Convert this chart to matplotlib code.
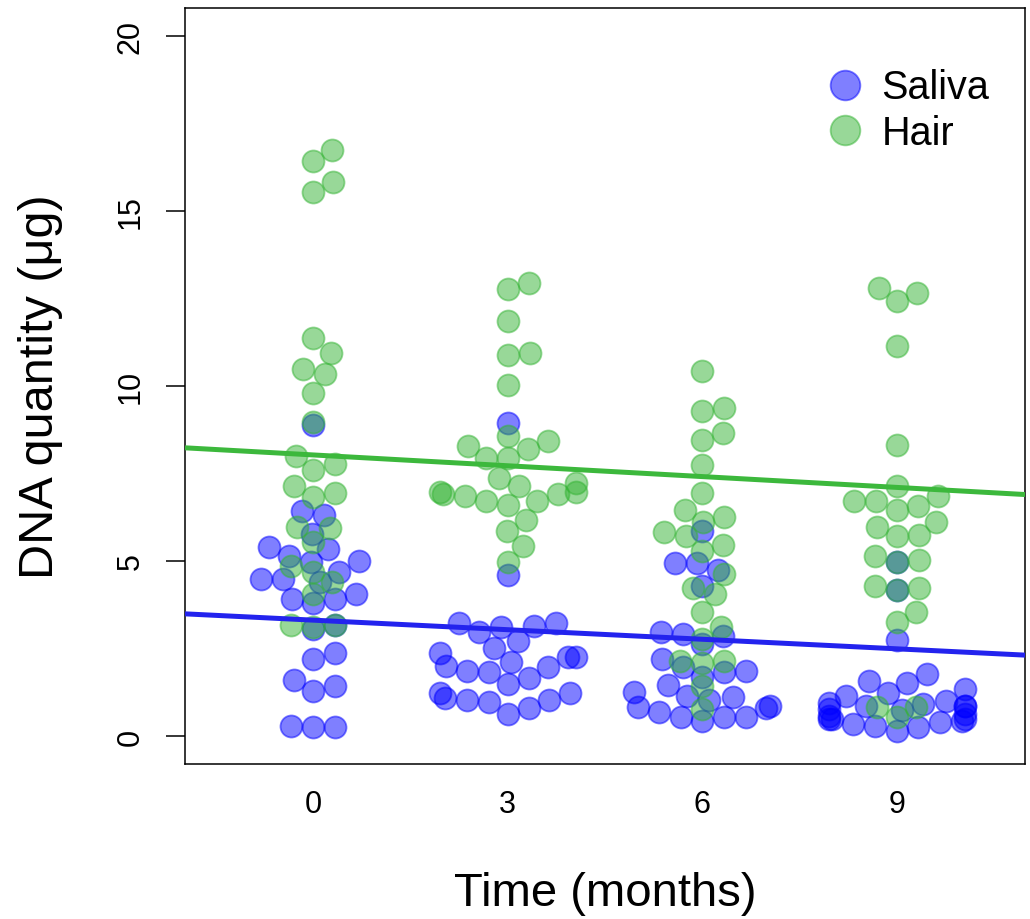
import numpy as np
import matplotlib
matplotlib.use("Agg")
import matplotlib.pyplot as plt
from matplotlib.lines import Line2D

plt.rcParams['font.family'] = ['Liberation Sans', 'DejaVu Sans']

# time points (months)
times = [0, 3, 6, 9]

# DNA quantity (ug) per time point
saliva = [
    [8.89, 6.43, 6.31, 5.77, 5.40, 5.34, 5.14, 5.00, 4.97, 4.69, 4.49, 4.40, 4.49, 4.06,
     3.91, 3.80, 3.91, 3.05, 3.17, 2.37, 2.20, 1.60, 1.43, 1.29, 0.29, 0.26, 0.26],
    [8.94, 4.60, 3.23, 3.23, 3.14, 3.11, 2.97, 2.71, 2.51, 2.37, 2.26, 2.26, 2.11, 2.00,
     1.97, 1.86, 1.83, 1.66, 1.49, 1.23, 1.23, 1.09, 1.03, 1.03, 0.97, 0.80, 0.63],
    [5.86, 4.94, 4.94, 4.74, 4.29, 2.97, 2.91, 2.86, 2.63, 2.20, 1.97, 1.86, 1.83, 1.69,
     1.46, 1.26, 1.14, 1.11, 1.03, 0.86, 0.83, 0.80, 0.69, 0.54, 0.54, 0.54, 0.43],
    [4.97, 4.17, 2.74, 1.77, 1.57, 1.51, 1.34, 1.23, 1.14, 1.00, 0.95, 0.91, 0.86, 0.86,
     0.85, 0.77, 0.75, 0.63, 0.57, 0.49, 0.49, 0.49, 0.43, 0.40, 0.34, 0.29, 0.26, 0.14],
]
hair = [
    [16.74, 16.43, 15.83, 15.54, 11.37, 10.94, 10.49, 10.34, 9.80, 8.97, 8.00, 7.77, 7.60,
     7.14, 6.94, 6.83, 5.97, 5.94, 5.54, 4.86, 4.70, 4.40, 4.06, 3.17, 3.11, 3.17],
    [12.94, 12.77, 11.86, 10.94, 10.89, 10.03, 8.57, 8.43, 8.29, 8.20, 7.94, 7.94, 7.37,
     7.23, 7.14, 6.97, 6.97, 6.91, 6.91, 6.86, 6.71, 6.71, 6.60, 6.17, 5.86, 5.43, 4.97],
    [10.43, 9.37, 9.29, 8.66, 8.46, 7.74, 6.94, 6.46, 6.26, 6.11, 5.83, 5.71, 5.46, 5.29,
     4.63, 4.23, 4.06, 3.54, 3.11, 2.77, 2.14, 2.14, 2.09, 1.43, 0.77],
    [12.80, 12.66, 12.43, 11.14, 8.31, 7.14, 6.86, 6.71, 6.71, 6.57, 6.46, 6.11, 5.97,
     5.74, 5.71, 5.14, 5.03, 4.97, 4.29, 4.23, 4.17, 3.54, 3.26, 0.83, 0.83, 0.54],
]

# fitted trend lines (intercept, slope)
saliva_fit = (3.31, -0.091)
hair_fit = (8.03, -0.103)

blue_pt = (0.0, 0.0, 1.0, 0.5)
green_pt = (0.2, 0.7, 0.2, 0.5)
blue_line = '#2323ee'
green_line = '#3cb83c'

PT_DIAM = 22.0     # point diameter in pixels
GUTTER = 68.0      # half corral width in pixels


def swarm(vals, d):
    # beeswarm "swarm" layout, ascending priority; returns offsets in pixels
    v = np.asarray(vals, float) / d
    xs = np.zeros(len(v))
    placed = []
    for i in np.argsort(v, kind='stable'):
        pre = [j for j in placed if v[i] - v[j] < 1]
        if pre:
            pre.sort(key=lambda j: abs(xs[j]))
            offs = [np.sqrt(max(0.0, 1 - (v[i] - v[j]) ** 2)) for j in pre]
            cands = [0.0] + [xs[j] + o for j, o in zip(pre, offs)] \
                + [xs[j] - o for j, o in zip(pre, offs)]
            best = None
            for c in cands:
                if any((v[i] - v[j]) ** 2 + (c - xs[j]) ** 2 < 0.999 for j in pre):
                    continue
                if best is None or abs(c) < abs(best):
                    best = c
            xs[i] = best
        placed.append(i)
    return np.clip(xs * d, -GUTTER, GUTTER)


fig = plt.figure(figsize=(10.3, 9.2), dpi=100)
ax = fig.add_axes([185 / 1030, 155 / 920, 840 / 1030, 756 / 920])
ax.set_xlim(-1.98, 10.98)
ax.set_ylim(-0.8, 20.8)

# pixels per data unit
p0 = ax.transData.transform((0, 0))
p1 = ax.transData.transform((1, 1))
sx, sy = p1[0] - p0[0], p1[1] - p0[1]

msize = PT_DIAM * 72 / 100
for series, col in [(saliva, blue_pt), (hair, green_pt)]:
    for t, vals in zip(times, series):
        off = swarm(np.array(vals) * sy, PT_DIAM)
        ax.plot(t + off / sx, vals, 'o', ms=msize, mfc=col, mec=col, mew=1.3,
                ls='none', zorder=2)

# trend lines across the whole plot
xx = np.array(ax.get_xlim())
for (a, b), col in [(saliva_fit, blue_line), (hair_fit, green_line)]:
    ax.plot(xx, a + b * xx, color=col, lw=3.6, zorder=3, solid_capstyle='butt')

ax.set_xticks(times)
ax.set_yticks([0, 5, 10, 15, 20])
ax.tick_params(axis='x', length=0, pad=18, labelsize=22)
ax.tick_params(axis='y', length=13.5, width=1.1, pad=15, labelsize=22, labelrotation=90)
for lab in ax.get_yticklabels():
    lab.set_verticalalignment('center')
for s in ax.spines.values():
    s.set_linewidth(1.1)

ax.set_xlabel('Time (months)', fontsize=34)
ax.xaxis.set_label_coords(0.5, -0.142)
ax.xaxis.label.set_verticalalignment('top')
ax.set_ylabel('DNA quantity (\u03bcg)', fontsize=35)
ax.yaxis.set_label_coords(-0.145, 0.5)

handles = [Line2D([], [], marker='o', ls='none', ms=msize, mfc=blue_pt, mec=blue_pt, mew=1.3),
           Line2D([], [], marker='o', ls='none', ms=msize, mfc=green_pt, mec=green_pt, mew=1.3)]
ax.legend(handles, ['Saliva', 'Hair'], loc='upper right', bbox_to_anchor=(0.995, 0.962),
          frameon=False, fontsize=28.5, handletextpad=0.42, labelspacing=0.2,
          handlelength=1.0, borderpad=0.3, markerscale=1.35)

fig.savefig('out.png', dpi=100)
